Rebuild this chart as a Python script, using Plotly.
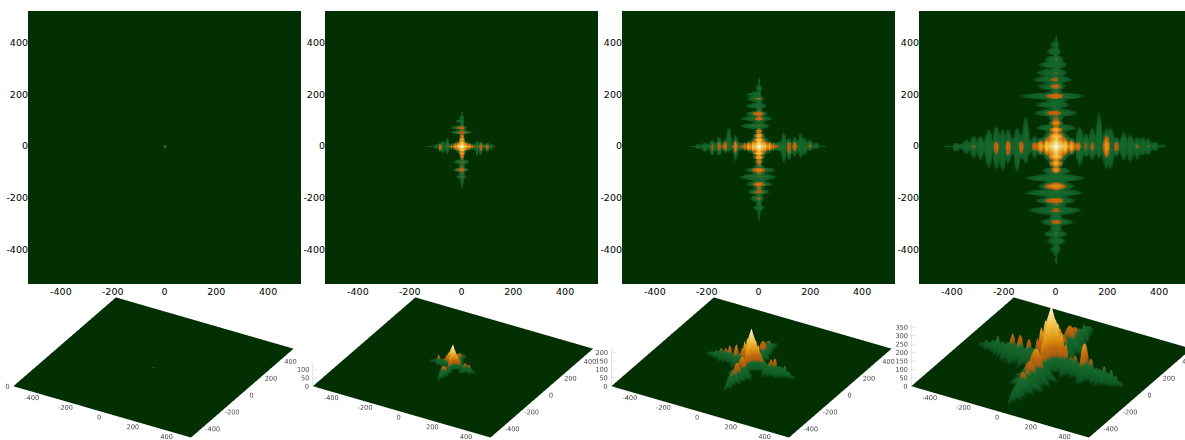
import numpy as np
import plotly.graph_objects as go

TICKS = [-400, -200, 0, 200, 400]
TICK_TEXT = ["-400", "-200", "0", "200", "400"]

# Lobes per arm: distance along the arm, height, reach to each side of the arm
P2_E_T = [15, 27, 38, 58, 73, 97, 112, 126]; P2_E_H = [100, 85, 65, 35, 50, 48, 25, 12]
P2_E_A = [18, 15, 11, 28, 22, 15, 10, 4]; P2_E_B = [18, 15, 11, 43, 36, 23, 12, 4]
P2_W_T = [15, 27, 40, 58, 75, 84, 100, 129]; P2_W_H = [100, 85, 65, 35, 30, 55, 25, 12]
P2_W_A = [18, 15, 11, 35, 28, 15, 9, 4]; P2_W_B = [18, 15, 11, 30, 30, 23, 10, 4]
P2_N_T = [15, 27, 38, 54, 73, 99, 112, 125]; P2_N_H = [100, 85, 65, 45, 50, 30, 20, 12]
P2_N_A = [18, 15, 11, 39, 19, 9, 8, 4]; P2_N_B = [18, 15, 11, 45, 42, 26, 12, 4]
P2_S_T = [15, 27, 38, 60, 90, 116, 135, 152]; P2_S_H = [100, 85, 65, 35, 55, 35, 22, 12]
P2_S_A = [18, 15, 11, 30, 26, 19, 9, 4]; P2_S_B = [18, 15, 11, 35, 35, 22, 9, 4]

P3_E_T = [23, 40, 55, 95, 116, 138, 138, 160, 176, 196, 222, 247]; P3_E_H = [170, 145, 105, 50, 80, 50, 95, 50, 50, 65, 40, 20]
P3_E_A = [27, 23, 17, 58, 35, 41, 30, 58, 37, 28, 15, 5]; P3_E_B = [27, 23, 17, 66, 55, 43, 30, 49, 36, 17, 10, 5]
P3_W_T = [23, 40, 55, 91, 91, 116, 129, 155, 180, 210, 235, 255]; P3_W_H = [170, 145, 105, 50, 110, 50, 95, 70, 65, 45, 30, 20]
P3_W_A = [27, 23, 17, 48, 36, 80, 30, 39, 28, 15, 10, 5]; P3_W_B = [27, 23, 17, 62, 38, 23, 25, 36, 36, 23, 10, 5]
P3_N_T = [25, 42, 58, 80, 108, 108, 127, 127, 157, 185, 202, 225, 254]
P3_N_H = [170, 145, 105, 55, 50, 95, 50, 95, 50, 65, 45, 35, 20]
P3_N_A = [27, 23, 17, 41, 54, 30, 35, 30, 31, 20, 10, 15, 5]
P3_N_B = [27, 23, 17, 75, 75, 30, 55, 42, 55, 49, 53, 15, 5]
P3_S_T = [25, 42, 58, 91, 91, 117, 146, 146, 175, 201, 236, 274]
P3_S_H = [170, 145, 105, 50, 110, 55, 50, 100, 70, 65, 40, 20]
P3_S_A = [27, 23, 17, 67, 36, 73, 54, 36, 41, 22, 22, 5]
P3_S_B = [27, 23, 17, 55, 42, 81, 52, 36, 43, 36, 23, 5]

P4_E_T = [35, 60, 85, 91, 115, 140, 140, 166, 194, 194, 210, 233, 233, 261, 287, 313, 313, 334, 355, 355, 381, 411]
P4_E_H = [270, 225, 165, 75, 95, 70, 110, 75, 80, 200, 75, 70, 120, 70, 70, 65, 100, 65, 60, 90, 60, 35]
P4_E_A = [42, 36, 26, 85, 53, 79, 38, 137, 79, 62, 82, 40, 38, 62, 49, 40, 26, 40, 36, 20, 21, 8]
P4_E_B = [42, 36, 26, 82, 44, 57, 38, 50, 95, 62, 95, 44, 38, 59, 63, 54, 26, 37, 37, 20, 18, 6]
P4_W_T = [35, 60, 82, 82, 117, 134, 134, 150, 185, 185, 207, 230, 230, 260, 292, 318, 318, 346, 385, 417]
P4_W_H = [270, 220, 150, 70, 75, 70, 130, 75, 75, 140, 75, 75, 135, 75, 70, 60, 95, 65, 55, 30]
P4_W_A = [42, 35, 25, 46, 124, 53, 38, 79, 72, 40, 72, 88, 34, 72, 46, 46, 22, 31, 14, 6]
P4_W_B = [42, 35, 25, 50, 70, 57, 48, 106, 70, 60, 102, 95, 50, 89, 57, 50, 22, 31, 21, 6]
P4_N_T = [38, 65, 72, 90, 130, 130, 162, 195, 195, 233, 233, 259, 259, 285, 285, 317, 336, 336, 368, 394, 413]
P4_N_H = [270, 230, 75, 185, 75, 130, 70, 75, 150, 70, 125, 70, 110, 65, 90, 70, 60, 90, 60, 50, 30]
P4_N_A = [40, 32, 85, 28, 85, 36, 53, 113, 48, 40, 35, 63, 20, 46, 22, 46, 33, 18, 21, 14, 6]
P4_N_B = [40, 32, 82, 28, 89, 68, 82, 143, 62, 76, 44, 95, 50, 82, 22, 70, 48, 18, 37, 24, 6]
P4_S_T = [38, 65, 90, 95, 121, 153, 153, 179, 209, 209, 247, 247, 291, 291, 337, 337, 366, 398, 437]
P4_S_H = [270, 230, 195, 85, 75, 75, 190, 75, 75, 145, 70, 110, 70, 120, 60, 90, 65, 50, 30]
P4_S_A = [40, 32, 26, 59, 117, 79, 58, 111, 79, 50, 104, 38, 72, 45, 46, 18, 40, 21, 6]
P4_S_B = [40, 32, 26, 57, 125, 76, 66, 127, 82, 70, 115, 42, 63, 40, 50, 18, 37, 24, 6]

# Central star: peak, reach north, south, east, west
P1_CORE = [4, 6, 6, 6, 6]
P2_CORE = [138, 44, 46, 48, 54]
P3_CORE = [232, 73, 66, 76, 68]
P4_CORE = [368, 112, 108, 105, 105]

COLORS = [[0, "#033003"], [0.05, "#0e5522"], [0.12, "#136228"], [0.21, "#17692e"], [0.27, "#a85c12"],
          [0.38, "#c26a0c"], [0.5, "#dc9012"], [0.7, "#f0c24a"], [0.88, "#f8e2a0"], [0.96, "#fff6dc"], [1, "#ffffff"]]

R = 527.0
STEP = 2 * R / 210
grid = -R + STEP * np.arange(-3, 214)
X, Y = np.meshgrid(grid, grid)


def arm(Z, along, across, t, h, a, b, wa):
    w_hat = np.interp(along, t, np.minimum(a, b), left=0, right=0)
    h_hat = np.interp(along, t, h, left=0, right=0)
    inside = along > 0
    spine = 0.75 * h_hat * np.clip(1 - (across / np.maximum(0.5 * w_hat, 1)) ** 2, 0, 1) * inside
    Z = np.maximum(Z, spine)
    for ti, hi, ai, bi in zip(t, h, a, b):
        c = np.where(across >= 0, across / ai, -across / bi)
        v = (along - ti) / (wa * np.clip(1 - 0.25 * np.abs(c), 0.05, 1))
        r2 = c ** 2 + v ** 2
        Z = np.maximum(Z, hi * np.clip(1 - r2, 0, 1) ** 1.2)
    return Z


def field(core, arms=None, wa=10):
    peak, ln, ls, le, lw = core
    lx = np.where(X >= 0, le, lw)
    ly = np.where(Y >= 0, ln, ls)
    r = (np.abs(X / lx) ** 0.8 + np.abs(Y / ly) ** 0.8) ** (1 / 0.8)
    Z = peak * np.clip(1 - r, 0, 1)
    if arms:
        e, w, n, s = arms
        Z = arm(Z, X, Y, *e, wa)
        Z = arm(Z, -X, Y, *w, wa)
        Z = arm(Z, Y, X, *n, wa)
        Z = arm(Z, -Y, X, *s, wa)
    return Z


FIELDS = [
    field(P1_CORE),
    field(P2_CORE, [(P2_E_T, P2_E_H, P2_E_A, P2_E_B), (P2_W_T, P2_W_H, P2_W_A, P2_W_B),
                    (P2_N_T, P2_N_H, P2_N_A, P2_N_B), (P2_S_T, P2_S_H, P2_S_A, P2_S_B)], 10),
    field(P3_CORE, [(P3_E_T, P3_E_H, P3_E_A, P3_E_B), (P3_W_T, P3_W_H, P3_W_A, P3_W_B),
                    (P3_N_T, P3_N_H, P3_N_A, P3_N_B), (P3_S_T, P3_S_H, P3_S_A, P3_S_B)], 14),
    field(P4_CORE, [(P4_E_T, P4_E_H, P4_E_A, P4_E_B), (P4_W_T, P4_W_H, P4_W_A, P4_W_B),
                    (P4_N_T, P4_N_H, P4_N_A, P4_N_B), (P4_S_T, P4_S_H, P4_S_A, P4_S_B)], 19),
]
PEAKS = [P1_CORE[0], P2_CORE[0], P3_CORE[0], P4_CORE[0]]
CMAX = [10, P2_CORE[0], P3_CORE[0], P4_CORE[0]]
ZTICKS = [[0], [0, 50, 100], [0, 50, 100, 150, 200], [0, 50, 100, 150, 200, 250, 300, 350]]

W, H = 1185, 440
fig = go.Figure()
layout = dict(width=W, height=H, margin=dict(l=0, r=0, t=0, b=0, pad=0, autoexpand=False), paper_bgcolor="white",
              plot_bgcolor="#033003", showlegend=False, font=dict(family="DejaVu Sans", color="#000000"))

HEAT_LEFT = [28, 325, 622, 919]
HEAT_RIGHT = [301, 598, 895, 1185]
SCENE_LEFT = [0, 296, 595, 889]
SCENE_RIGHT = [300, 597, 895, 1185]
BASE_CX = [153.5, 453, 751.5, 1051.5]
PXU = 273 / 1054.0
RANGE = 640.0
A = 2.83 * RANGE / R
UNIT_PX = 73.0
RIGHT = np.array([np.cos(np.pi / 6), np.sin(np.pi / 6), 0.0])
DIR = np.array([0.5 * np.cos(np.pi / 6), -np.cos(np.pi / 6) ** 2, 0.5])
EYE_D = 8.0
LABEL = "#444444"
AXIS_LINE = "#cccccc"
TEXT3D = dict(size=6.5, color=LABEL, family="DejaVu Sans")

for i in range(4):
    n = "" if i == 0 else str(i + 1)
    scene = "scene" + n
    Z = FIELDS[i]
    fig.add_trace(go.Heatmap(x=grid, y=grid, z=Z, colorscale=COLORS, zmin=0, zmax=CMAX[i], zsmooth="best",
                             showscale=False, xaxis="x" + n, yaxis="y" + n, hoverinfo="skip"))
    x_hi = -527 + (HEAT_RIGHT[i] - HEAT_LEFT[i]) / PXU
    layout["xaxis" + n] = dict(domain=[HEAT_LEFT[i] / W, HEAT_RIGHT[i] / W], range=[-527, x_hi], tickvals=TICKS,
                               ticktext=TICK_TEXT, showgrid=False, zeroline=False, showline=False, ticks="",
                               tickfont=dict(size=9.5), anchor="y" + n, automargin=False)
    layout["yaxis" + n] = dict(domain=[1 - 284 / H, 1 - 11 / H], range=[-533, 522], tickvals=TICKS,
                               ticktext=TICK_TEXT, showgrid=False, zeroline=False, showline=False, ticks="",
                               tickfont=dict(size=9.5), anchor="x" + n, automargin=False, ticklabelstandoff=-1)

    mask = (grid >= -R - 0.01) & (grid <= R + 0.01)
    sub = grid[mask]
    Zs = Z[np.ix_(mask, mask)]
    fig.add_trace(go.Surface(x=sub, y=sub, z=Zs, colorscale=COLORS, cmin=0, cmax=CMAX[i], showscale=False,
                             scene=scene, hoverinfo="skip",
                             lighting=dict(ambient=1, diffuse=0, specular=0, roughness=1, fresnel=0)))
    tv = np.array(TICKS, dtype=float)
    # tick labels of the 3D box
    fig.add_trace(go.Scatter3d(x=tv + 13, y=np.full(5, -R - 54), z=np.zeros(5), mode="text", text=TICK_TEXT,
                               textfont=TEXT3D, textposition="middle center", scene=scene, hoverinfo="skip"))
    fig.add_trace(go.Scatter3d(x=np.full(5, R + 51), y=tv + 6, z=np.zeros(5), mode="text", text=TICK_TEXT,
                               textfont=TEXT3D, textposition="middle center", scene=scene, hoverinfo="skip"))
    zt = np.array(ZTICKS[i], dtype=float)
    zoff = np.array([4.0 + 1.8 * len(str(v)) for v in ZTICKS[i]])
    fig.add_trace(go.Scatter3d(x=-R - 4.51 * zoff, y=-R - 2.61 * zoff, z=zt, mode="text",
                               text=[str(v) for v in ZTICKS[i]], textfont=TEXT3D, textposition="middle center",
                               scene=scene, hoverinfo="skip"))
    if len(zt) > 1:
        lx, ly, lz = [-R, -R], [-R, -R], [0, PEAKS[i]]
        for v in zt:
            lx += [np.nan, -R, -R + 18]
            ly += [np.nan, -R, -R + 10]
            lz += [np.nan, v, v]
        fig.add_trace(go.Scatter3d(x=lx, y=ly, z=lz, mode="lines", line=dict(color=AXIS_LINE, width=1),
                                   connectgaps=False, scene=scene, hoverinfo="skip"))

    ztop = PEAKS[i]
    zspan = ztop + 4.0
    az = zspan / (2 * RANGE) * A
    dx_px = BASE_CX[i] - (SCENE_LEFT[i] + SCENE_RIGHT[i]) / 2
    center = np.array([0, 0, -az / 2 + 2 / zspan * az]) - RIGHT * dx_px / UNIT_PX
    eye = center + DIR * EYE_D
    ax = dict(visible=False, showbackground=False, showgrid=False, zeroline=False, showspikes=False, showline=False,
              showticklabels=False, ticks="", title="")
    layout[scene] = dict(
        domain=dict(x=[SCENE_LEFT[i] / W, SCENE_RIGHT[i] / W], y=[0, 145 / H]),
        aspectmode="manual", aspectratio=dict(x=A, y=A, z=az),
        camera=dict(projection=dict(type="orthographic"), up=dict(x=0, y=0, z=1),
                    center=dict(x=center[0], y=center[1], z=center[2]),
                    eye=dict(x=eye[0], y=eye[1], z=eye[2])),
        xaxis=dict(ax, range=[-RANGE, RANGE]),
        yaxis=dict(ax, range=[-RANGE, RANGE]),
        zaxis=dict(ax, range=[-2, ztop + 2]),
    )

fig.update_layout(**layout)
fig.write_html("out.html", config=dict(displayModeBar=False), post_script="document.body.style.margin='0';")
